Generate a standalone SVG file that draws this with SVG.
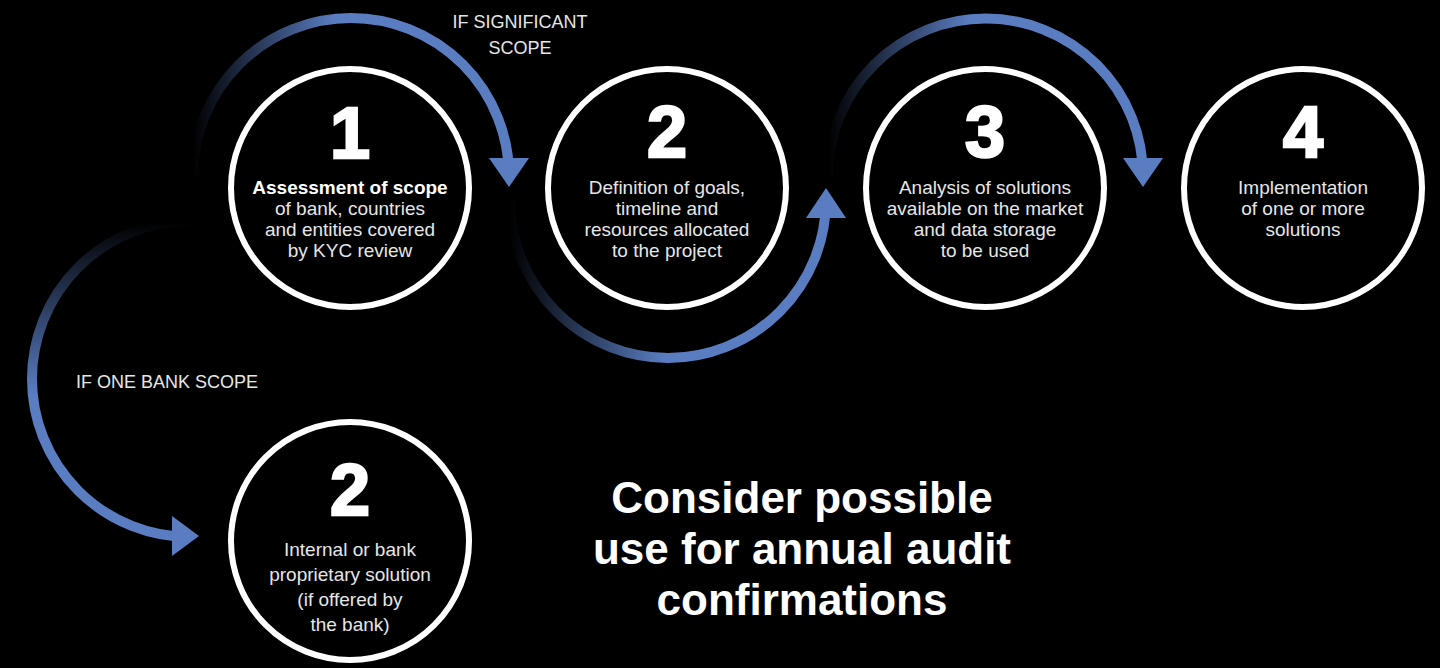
<svg xmlns="http://www.w3.org/2000/svg" width="1440" height="668" viewBox="0 0 1440 668">
<defs>
<linearGradient id="g1" gradientUnits="userSpaceOnUse" x1="193" y1="0" x2="335" y2="0"><stop offset="0" stop-color="#5a7dc2" stop-opacity="0"/><stop offset="1" stop-color="#5a7dc2"/></linearGradient>
<linearGradient id="g2" gradientUnits="userSpaceOnUse" x1="510" y1="0" x2="665" y2="0"><stop offset="0" stop-color="#5a7dc2" stop-opacity="0"/><stop offset="1" stop-color="#5a7dc2"/></linearGradient>
<linearGradient id="g3" gradientUnits="userSpaceOnUse" x1="828" y1="0" x2="970" y2="0"><stop offset="0" stop-color="#5a7dc2" stop-opacity="0"/><stop offset="1" stop-color="#5a7dc2"/></linearGradient>
<linearGradient id="g4" gradientUnits="userSpaceOnUse" x1="0" y1="222" x2="0" y2="395"><stop offset="0" stop-color="#5a7dc2" stop-opacity="0"/><stop offset="1" stop-color="#5a7dc2"/></linearGradient>
<style>
.ring{fill:#000;stroke:#fff;stroke-width:6}
.num{font-family:"Liberation Sans",Arial,sans-serif;font-weight:900;font-size:72px;fill:#fff;stroke:#fff;stroke-width:2.5;text-anchor:middle}
.txt{font-family:"Liberation Sans",Arial,sans-serif;font-size:19px;fill:#e6e6e6;text-anchor:middle}
.b{font-weight:bold;fill:#fff}
.lbl{font-family:"Liberation Sans",Arial,sans-serif;font-size:18px;fill:#e6e6e6}
.big{font-family:"Liberation Sans",Arial,sans-serif;font-weight:bold;font-size:44px;fill:#fff;text-anchor:middle}
.arc{fill:none;stroke-width:10}
.head{fill:#5a7dc2}
</style>
</defs>
<rect width="1440" height="668" fill="#000"/>
<g id="connectors">
<path class="arc" stroke="url(#g1)" d="M193 176 A158 158 0 0 1 509 176"/>
<polygon class="head" points="489,158 529,158 509,187"/>
<path class="arc" stroke="url(#g2)" d="M510 200 A158 158 0 0 0 826 200"/>
<polygon class="head" points="806,218 846,218 826,188"/>
<path class="arc" stroke="url(#g3)" d="M828 176 A157.5 157.5 0 0 1 1143 176"/>
<polygon class="head" points="1123,158 1163,158 1143,187"/>
<path class="arc" stroke="url(#g4)" d="M190 221 A158 158 0 0 0 190 537"/>
<polygon class="head" points="172,516 172,556 199,536"/>
</g>
<g id="label-significant"><text class="lbl" x="520" y="28" text-anchor="middle">IF SIGNIFICANT</text><text class="lbl" x="520" y="54" text-anchor="middle">SCOPE</text></g>
<g id="label-onebank"><text class="lbl" x="76" y="388">IF ONE BANK SCOPE</text></g>
<g id="node1">
<circle class="ring" cx="350" cy="188" r="119"/>
<text class="num" x="350" y="158">1</text>
<text class="txt b" x="350" y="194">Assessment of scope</text>
<text class="txt" x="350" y="215">of bank, countries</text>
<text class="txt" x="350" y="236">and entities covered</text>
<text class="txt" x="350" y="257">by KYC review</text>
</g>
<g id="node2">
<circle class="ring" cx="667" cy="188" r="119"/>
<text class="num" x="667" y="157">2</text>
<text class="txt" x="667" y="194">Definition of goals,</text>
<text class="txt" x="667" y="215">timeline and</text>
<text class="txt" x="667" y="236">resources allocated</text>
<text class="txt" x="667" y="257">to the project</text>
</g>
<g id="node3">
<circle class="ring" cx="985" cy="188" r="119"/>
<text class="num" x="985" y="157">3</text>
<text class="txt" x="985" y="194">Analysis of solutions</text>
<text class="txt" x="985" y="215">available on the market</text>
<text class="txt" x="985" y="236">and data storage</text>
<text class="txt" x="985" y="257">to be used</text>
</g>
<g id="node4">
<circle class="ring" cx="1303" cy="188" r="119"/>
<text class="num" x="1303" y="157">4</text>
<text class="txt" x="1303" y="194">Implementation</text>
<text class="txt" x="1303" y="215">of one or more</text>
<text class="txt" x="1303" y="236">solutions</text>
</g>
<g id="node2b">
<circle class="ring" cx="350" cy="541" r="119"/>
<text class="num" x="350" y="515">2</text>
<text class="txt" x="350" y="556">Internal or bank</text>
<text class="txt" x="350" y="581">proprietary solution</text>
<text class="txt" x="350" y="606">(if offered by</text>
<text class="txt" x="350" y="631">the bank)</text>
</g>
<g id="note">
<text class="big" x="802" y="513">Consider possible</text>
<text class="big" x="802" y="564">use for annual audit</text>
<text class="big" x="802" y="615">confirmations</text>
</g>
</svg>
